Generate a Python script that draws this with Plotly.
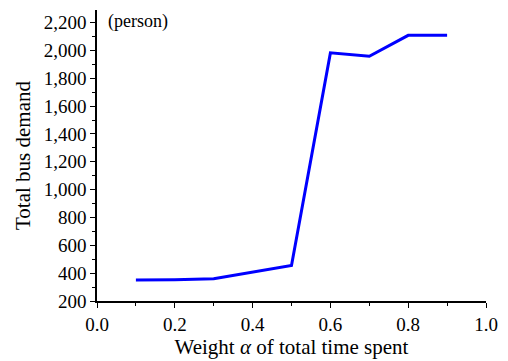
import plotly.graph_objects as go

# Weight of total time spent vs. total bus demand
alpha = [0.1, 0.2, 0.3, 0.4, 0.5, 0.6, 0.7, 0.8, 0.9]
demand = [350, 352, 360, 410, 455, 1982, 1958, 2108, 2108]

x_ticks = [0.0, 0.2, 0.4, 0.6, 0.8, 1.0]
x_tick_text = ["0.0", "0.2", "0.4", "0.6", "0.8", "1.0"]
y_ticks = list(range(200, 2201, 200))
y_tick_text = [f"{v:,}" for v in y_ticks]

font_family = "Times New Roman, Liberation Serif, serif"
tick_font = dict(family=font_family, size=19, color="black")
title_font = dict(family=font_family, size=21, color="black")
note_font = dict(family=font_family, size=18, color="black")

fig = go.Figure(
    go.Scatter(
        x=alpha,
        y=demand,
        mode="lines",
        line=dict(color="#0000ff", width=3),
        showlegend=False,
    )
)

fig.update_layout(
    width=508,
    height=361,
    margin=dict(l=97, r=18, t=10, b=60),
    paper_bgcolor="white",
    plot_bgcolor="white",
    font=dict(family=font_family, size=19, color="black"),
    annotations=[
        dict(
            text="(person)",
            x=0.022,
            y=1.005,
            xref="paper",
            yref="paper",
            xanchor="left",
            yanchor="top",
            showarrow=False,
            font=note_font,
        )
    ],
)

fig.update_xaxes(
    range=[0, 1.0],
    tickvals=x_ticks,
    ticktext=x_tick_text,
    tickfont=tick_font,
    ticks="outside",
    ticklen=5,
    tickwidth=1.2,
    tickcolor="black",
    showline=True,
    linecolor="black",
    linewidth=1.5,
    showgrid=False,
    zeroline=False,
    minor=dict(dtick=0.1, ticks="outside", ticklen=3, tickcolor="black", tickwidth=1),
    title=dict(text="Weight <i>α</i> of total time spent", standoff=1, font=title_font),
)

fig.update_yaxes(
    range=[200, 2290],
    tickvals=y_ticks,
    ticktext=y_tick_text,
    tickfont=tick_font,
    ticks="outside",
    ticklen=5,
    tickwidth=1.2,
    tickcolor="black",
    showline=True,
    linecolor="black",
    linewidth=1.5,
    showgrid=False,
    zeroline=False,
    minor=dict(dtick=100, ticks="outside", ticklen=3, tickcolor="black", tickwidth=1),
    title=dict(text="Total bus demand", standoff=7, font=title_font),
)

fig.write_html("out.html")
